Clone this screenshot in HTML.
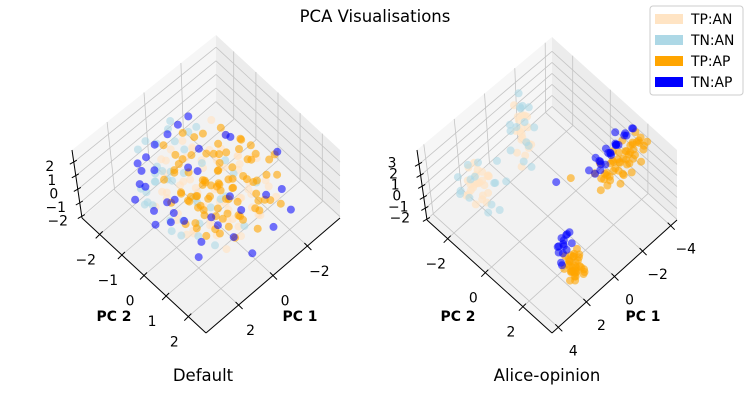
<!DOCTYPE html>
<html><head><meta charset="utf-8"><style>
html,body{margin:0;padding:0;background:#fff;}
svg{display:block;font-family:"DejaVu Sans","Liberation Sans",sans-serif;}
</style></head><body>
<svg id="fig" width="750" height="400" viewBox="0 0 750 400">
<text x="375" y="22" text-anchor="middle" font-size="16.5" fill="#000">PCA Visualisations</text>
<g id="left"></g>
<g id="right"></g>
<text x="203" y="381" text-anchor="middle" font-size="16.5">Default</text>
<text x="547" y="381" text-anchor="middle" font-size="16.5">Alice-opinion</text>
<g>
<rect x="650" y="6" width="93" height="89" rx="3" fill="#fff" fill-opacity="0.8" stroke="#ccc"/>
<g><rect x="655" y="14" width="28" height="10" fill="#ffe4c4"/><text x="691" y="24" font-size="13.9">TP:AN</text></g>
<g><rect x="655" y="35" width="28" height="10" fill="#add8e6"/><text x="691" y="45" font-size="13.9">TN:AN</text></g>
<g><rect x="655" y="56" width="28" height="10" fill="#ffa500"/><text x="691" y="66" font-size="13.9">TP:AP</text></g>
<g><rect x="655" y="77" width="28" height="10" fill="#0000ff"/><text x="691" y="87" font-size="13.9">TN:AP</text></g>
</g>
</svg>
<script>
// ---- data: Default plot [pc1, pc2, pc3] ----
const defaultTPAN=[[0.3,0.5,1.2],[-1.2,0.8,0.4],[1.5,-0.3,-0.6],[-0.4,-1.1,0.9],[0.9,1.4,-1.3],[-1.8,-0.2,0.2],[0.1,-0.6,-1.5],[1.1,0.2,1.6],[-0.7,1.6,-0.2],[-2.2,0.9,-0.8],[0.6,-1.7,0.3],[1.9,0.7,0.1],[-1.0,-1.6,-0.4],[-0.2,0.1,2.1],[0.4,1.1,0.6],[-1.5,1.3,1.0],[1.3,-1.0,1.1],[-0.6,-0.3,-1.1],[0.8,0.6,-0.3],[-2.0,-0.9,0.5],[2.1,-0.8,-0.2],[-0.3,2.0,0.8],[0.0,-2.0,-0.9],[1.6,1.2,0.9],[-1.3,0.3,-1.6],[0.5,-0.2,0.0],[-0.9,0.6,1.8],[1.0,-1.4,-1.2],[-1.7,-1.3,1.3],[0.2,0.9,-0.7],[-2.4,0.2,0.0],[1.4,0.0,-1.8],[-0.5,-0.8,0.4],[0.7,1.9,0.2],[-1.1,1.0,-1.0],[2.3,0.3,0.7],[-0.1,-1.3,1.5],[0.9,-0.5,0.8],[-1.6,0.0,-0.3],[0.3,0.3,-1.9],
[0.0,0.4,-0.3],[-0.6,0.9,0.1],[0.6,-0.9,-0.4],[-1.1,-0.4,1.2],[1.2,0.9,0.4],[-0.2,-0.5,0.6],[0.4,0.0,-0.8],[-1.4,0.6,-0.6],[0.9,-0.2,1.4],[-0.8,1.2,0.6],[1.7,-0.6,0.3],[-0.4,-1.4,-0.2],[-1.9,0.4,0.9],[0.2,1.4,-0.4],[1.1,-1.1,-0.7],[-0.3,0.7,1.6],[-1.2,-1.0,0.1],[0.7,0.8,-1.4],[-2.1,-0.4,-0.4],[1.5,0.4,-1.0],[-0.6,0.2,-1.4],[0.3,-1.5,1.0],[-1.6,1.7,0.3],[0.8,1.6,1.1],[-0.9,-0.1,0.5]];
const defaultTNAN=[[1.2,-1.5,0.2],[0.5,-2.0,-0.8],[1.8,-1.0,1.0],[-0.3,-1.8,0.5],[2.0,-0.2,-1.2],[0.9,-1.2,-0.1],[1.5,0.6,-0.9],[-1.0,-1.4,1.4],[0.1,-2.3,0.0],[2.4,-0.9,0.3],[-0.8,0.4,0.9],[0.6,0.9,1.3],[1.1,-0.4,-1.7],[-1.6,-0.6,-0.5],[0.3,-0.9,1.9],[1.7,1.5,0.0],[-0.4,1.2,-1.3],[2.2,0.4,-0.4],[0.8,-2.2,1.1],[-1.3,-2.0,-0.2],[1.4,-1.8,-1.4],[-0.1,0.6,0.3],[2.6,-0.5,0.9],[0.0,-1.2,-0.6],[1.0,0.1,0.6],[-2.0,0.5,-0.9],[1.9,-1.6,-0.3],[0.4,-0.3,-1.0],[-0.7,-2.3,0.8],[1.3,1.0,1.6],
[1.6,-1.2,0.5],[0.7,-1.6,-0.3],[2.1,-1.3,-0.8],[-0.2,-2.0,1.2],[1.2,-0.8,1.4],[2.3,0.0,0.2],[0.3,-1.5,-1.3],[1.8,0.9,0.8],[-0.9,-1.1,-0.7],[1.0,-2.4,0.4]];
const defaultTPAP=[[0.0,0.0,0.3],[-0.5,0.4,0.8],[0.4,-0.3,-0.5],[-1.0,0.2,0.0],[0.7,0.5,1.0],[-0.3,-0.6,-0.9],[0.2,0.9,-0.2],[-1.4,-0.4,0.6],[1.0,-0.1,0.4],[-0.8,1.0,1.4],[0.5,-1.0,0.9],[-1.9,0.6,-0.5],[1.3,0.8,-0.8],[-0.2,-1.4,-0.1],[-1.2,1.5,0.2],[0.9,1.5,0.5],[-2.1,-0.3,1.0],[0.1,0.3,-1.4],[-0.6,-0.1,1.8],[1.6,-0.5,0.0],[-1.6,0.9,-1.2],[-0.9,-0.9,0.3],[0.6,0.2,1.6],[-2.3,1.2,0.4],[0.3,-0.8,-1.7],[-0.4,1.8,-0.6],[1.2,0.3,-1.1],[-1.1,-1.2,1.1],[-2.6,0.0,-0.2],[0.8,-0.7,-0.4],[-0.7,0.7,-1.6],[-1.5,0.1,1.5],[0.0,1.2,0.9],[-2.0,1.6,-0.8],[1.5,0.6,1.2],[-0.2,-0.4,-0.3],[-1.3,-0.7,-1.1],[0.4,1.4,-1.0],[-2.8,0.7,0.6],[-0.9,0.3,-0.4],[1.1,-1.2,0.1],[-1.7,-1.0,0.0],[0.2,-1.9,0.6],[-0.1,0.6,0.1],[-1.0,1.9,1.0],[-3.0,0.3,-0.6],[0.6,1.0,0.0],[-0.5,-1.6,1.2],[-1.8,0.4,1.9],[0.9,0.0,-1.5],
[-0.3,0.2,-0.1],[0.2,-0.2,0.6],[-0.7,-0.2,-0.6],[0.5,0.7,0.2],[-1.1,0.6,0.7],[0.1,-0.9,0.0],[-0.4,1.0,-0.9],[0.8,0.3,-0.2],[-1.5,-0.2,-0.3],[0.3,0.5,1.3],[-0.8,-0.5,1.0],[1.1,0.4,0.6],[-0.1,-0.2,-1.1],[-1.3,0.9,0.5],[0.6,-0.5,-1.0],[-0.6,0.5,0.2],[0.0,0.8,0.5],[-2.0,0.1,0.2],[1.4,-0.2,0.9],[-0.9,1.3,-0.4],[0.4,-1.3,-0.3],[-1.7,0.5,1.1],[0.9,1.1,-0.6],[-0.2,-1.0,0.8],[-1.2,-0.6,-0.8],[0.7,-0.1,0.1],[-0.5,0.0,1.4],[1.7,0.2,-0.4],[-2.4,-0.5,0.3],[0.2,1.6,0.4],[-1.4,1.1,-1.4],[1.0,-0.8,1.3],[-0.3,-1.8,-0.5],[-2.2,0.8,-0.1],[0.5,0.1,-1.2],[-0.7,1.5,1.2],[1.3,1.2,0.3],[-1.0,-1.5,0.5],[-0.1,0.3,0.7],[-1.6,-0.8,1.6]];
const defaultTNAP=[[1.8,-1.6,0.9],[2.2,-0.8,-0.4],[1.5,-2.0,-1.0],[-0.4,-2.2,0.3],[2.5,0.2,0.6],[0.6,-2.4,-0.6],[-1.2,-1.9,1.2],[2.0,1.0,-1.3],[1.0,1.8,0.3],[-2.4,-1.2,-0.4],[0.3,2.1,-1.2],[1.7,-1.1,1.6],[-1.8,1.8,0.8],[2.6,-1.3,0.1],[-0.8,2.2,-0.3],[0.9,-1.7,1.7],[1.2,0.5,-1.8],[-1.5,-1.7,-1.2],[-2.7,0.9,1.2],[0.1,-0.5,0.7],[-0.6,0.9,-0.8],[1.4,1.4,1.0],[2.3,-0.1,1.4],[-2.2,1.9,-1.0],[0.5,0.4,-0.9],[0.0,-1.0,0.1],[1.9,0.3,0.2],[-1.1,0.0,-1.7],
[1.6,-0.4,-0.6],[-1.9,-0.6,0.9],[0.8,-1.0,-1.4],[2.0,-1.3,0.4],[-0.5,-1.8,1.5],[1.3,-2.2,0.0],[2.4,-0.6,-0.9],[-1.4,1.4,0.2]];
// ---- data: Alice-opinion plot ----
const aliceTPAN=[[-1.1,-2.1,2.6],[-1.0,-2.2,2.1],[-1.2,-1.9,1.7],[-0.9,-2.0,1.3],[-1.3,-2.3,0.9],[-1.0,-2.1,0.5],[-1.1,-1.8,0.1],[-1.4,-2.1,-0.3],[-0.8,-2.2,-0.6],[-1.2,-2.4,1.9],[-1.0,-1.9,3.0],[-1.1,-2.0,-0.9],[-0.9,-2.3,1.1],[-1.3,-2.0,2.4],[-1.2,-2.2,0.3],[-1.0,-1.7,0.7],[-0.8,-2.0,1.6],[-1.4,-1.9,-0.1],[-1.1,-2.5,2.9],[-0.7,-1.9,-1.3],
[2.0,-2.1,0.0],[2.2,-2.0,0.4],[1.8,-2.2,-0.3],[2.1,-1.8,0.8],[1.9,-2.4,-0.7],[2.4,-2.2,0.2],[1.6,-1.9,0.5],[2.3,-1.7,-0.5],[1.7,-2.5,0.9],[2.5,-2.4,-1.0],[2.0,-1.6,-0.1],[1.5,-2.2,-0.9],[2.6,-1.9,0.6],[2.1,-2.6,-0.4],[1.8,-1.7,1.1],[2.4,-2.0,-1.3],[1.9,-2.3,0.3],[2.2,-2.4,1.2],[1.4,-2.0,0.1],[2.7,-2.1,-0.2],[2.0,-1.9,-0.8],[1.7,-2.1,0.7],[2.3,-2.3,-0.6],[2.1,-2.0,1.5],[1.9,-1.8,-1.4]];
const aliceTNAN=[[-1.1,-2.2,3.2],[-0.9,-2.0,3.6],[-1.4,-2.3,2.8],[-1.0,-1.9,2.4],[-1.3,-2.4,3.9],[-0.7,-2.1,2.0],[-1.5,-1.8,1.5],[-0.8,-2.5,0.9],[-1.2,-2.0,0.2],[-0.6,-1.7,-0.4],[-1.6,-2.2,-0.9],[-1.0,-1.6,-1.2],[-0.9,-2.6,1.2],[-1.3,-1.9,3.4],[-0.5,-2.3,-0.2],
[2.0,-2.6,0.9],[2.6,-2.0,1.2],[1.6,-1.5,0.5],[2.9,-2.4,-0.4],[1.2,-1.9,-0.6],[2.3,-1.2,-0.2],[2.4,-2.8,-1.3],[1.8,-2.2,1.5],[1.0,-1.4,0.1],[3.0,-1.8,0.3],[1.5,-2.7,-0.9],[2.2,-1.5,-1.5],[0.8,-2.0,0.8],[2.7,-2.6,0.6],[1.9,-1.1,-1.0]];
const aliceTPAP=[[-1.5,1.7,1.2],[-1.8,1.5,1.6],[-2.0,1.8,2.0],[-2.2,1.4,1.4],[-2.4,1.7,1.9],[-2.6,1.5,2.3],[-2.8,1.9,1.5],[-3.0,1.6,1.8],[-3.2,1.4,2.2],[-3.4,1.8,1.6],[-3.6,1.5,2.0],[-3.8,1.7,1.4],[-4.0,1.4,1.9],[-4.2,1.6,2.3],[-4.4,1.8,1.7],[-4.6,1.5,2.1],[-4.8,1.7,1.8],[-1.7,1.9,1.7],[-2.1,1.2,2.2],[-2.5,2.0,1.1],[-2.9,1.3,2.5],[-3.3,2.0,1.2],[-3.7,1.2,2.4],[-4.1,1.9,1.1],[-4.5,1.3,2.4],[-1.6,1.3,2.0],[-2.3,1.6,1.0],[-2.7,1.7,2.6],[-3.1,1.9,2.0],[-3.5,1.4,1.3],[-3.9,1.6,2.6],[-4.3,1.3,1.5],[-2.0,1.5,1.3],[-3.0,1.8,1.0],[-4.7,1.6,1.4],[-0.3,1.0,2.6],
[-2.1,1.6,1.7],[-2.6,1.4,1.9],[-3.1,1.5,1.6],[-3.6,1.7,2.2],[-4.1,1.5,1.6],[-2.4,1.8,2.3],[-2.9,1.6,1.2],[-3.4,1.6,2.4],[-3.9,1.4,1.2],[-4.4,1.6,2.0],[-1.9,1.7,2.3],[-2.8,1.4,1.8],[-3.3,1.7,1.9],[-3.8,1.8,1.9],[-4.2,1.7,2.6],
[1.5,2.6,-1.8],[1.3,2.4,-2.0],[1.7,2.7,-1.4],[1.4,2.5,-1.1],[1.6,2.3,-0.6],[1.2,2.8,-1.6],[1.8,2.5,-0.2],[1.5,2.2,-1.3],[1.3,2.9,-0.9],[1.9,2.6,-1.7],[1.1,2.5,-0.4],[1.6,2.8,0.1],[1.4,2.3,-1.9],[1.7,2.4,-0.9],[1.2,2.6,-1.2],[1.5,2.9,-0.5],[1.9,2.3,-1.1],[1.0,2.7,-1.8],[1.6,2.6,0.4],[1.3,2.2,-0.7],[1.8,2.8,-1.5],[1.4,2.7,0.0],[1.5,2.4,-1.6],[1.7,2.2,-0.3],[1.2,2.4,-2.1],[1.6,2.5,-1.0],[1.4,2.6,0.6],[1.8,2.7,-0.8],[1.1,2.3,-1.4],[1.5,2.5,-0.1],
[1.5,2.6,-1.2],[1.4,2.4,-0.4],[1.6,2.7,-0.7],[1.3,2.5,-1.7],[1.7,2.5,-1.3],[1.5,2.3,-0.9]];
const aliceTNAP=[[-1.6,1.0,1.8],[-1.9,1.1,1.3],[-2.2,0.9,2.1],[-2.5,1.2,1.6],[-2.8,1.0,2.4],[-3.1,0.9,1.5],[-3.4,1.1,2.2],[-3.7,1.0,1.7],[-4.0,1.2,2.5],[-4.3,0.9,1.9],[-4.6,1.1,2.3],[-2.0,1.3,2.6],[-2.6,0.8,1.2],[-3.2,1.2,2.7],[-3.8,0.8,1.3],[-4.4,1.2,2.7],[0.2,0.6,2.2],[-2.4,1.0,0.9],[-3.0,1.1,1.9],[-3.6,0.9,2.8],
[-2.3,1.1,1.7],[-2.9,1.2,2.0],[-3.5,1.0,1.9],[-4.1,1.0,2.1],[-2.7,1.3,2.6],
[1.6,2.0,-0.5],[1.4,1.9,0.3],[1.8,2.1,-1.2],[1.3,2.0,0.9],[1.7,1.8,-0.1],[1.5,2.1,1.2],[1.2,1.9,-0.8],[1.9,2.0,0.5],[1.4,2.2,1.5],[1.6,1.9,-1.5],[1.1,2.1,0.0],[1.7,2.0,1.0],[1.3,1.8,-0.3],[1.8,2.2,0.7],[1.5,1.7,-1.0]];
// ---- tick labels ----
const defaultPC1Ticks=[-2,0,2];
const defaultPC2Ticks=[-2,-1,0,1,2];
const defaultZTicks=[-2,-1,0,1,2];
const alicePC1Ticks=[-4,-2,0,2,4];
const alicePC2Ticks=[-2,0,2];
const aliceZTicks=[-2,-1,0,1,2,3];

const NS="http://www.w3.org/2000/svg";
function mk(parent,tag,attrs){const e=document.createElementNS(NS,tag);for(const k in attrs)e.setAttribute(k,attrs[k]);parent.appendChild(e);return e;}
function fmt(v){return v<0?"\u2212"+(-v):""+v;}

function drawPlot(g,cfg,series){
  const B=cfg.B,L=cfg.L,R=cfg.R;
  const A=(p2)=>(cfg.p2max-p2)/(cfg.p2max-cfg.p2min);
  const Bf=(p1)=>(cfg.p1max-p1)/(cfg.p1max-cfg.p1min);
  const N=(z)=>(z-cfg.zmin)/(cfg.zmax-cfg.zmin);
  function P(a,b,n){
    const zdx=-10*Math.max(0,a-b);
    return [B[0]+a*(L[0]-B[0])+b*(R[0]-B[0])+n*zdx, B[1]+a*(L[1]-B[1])+b*(R[1]-B[1])-n*cfg.H];
  }
  const pts=(arr)=>arr.map(q=>q[0].toFixed(1)+","+q[1].toFixed(1)).join(" ");
  const floor=mk(g,"polygon",{points:pts([P(0,0,0),P(1,0,0),P(1,1,0),P(0,1,0)]),fill:"#f2f2f2"});
  
  
  const lw=mk(g,"polygon",{points:pts([P(1,0,0),P(1,1,0),P(1,1,1),P(1,0,1)]),fill:"#f6f6f6"});
  
  
  const rw=mk(g,"polygon",{points:pts([P(0,1,0),P(1,1,0),P(1,1,1),P(0,1,1)]),fill:"#ececec"});
  
  
  const grid=mk(g,"g",{stroke:"#c4c4c4","stroke-width":"0.8",fill:"none"});
  
  
  function line(par,p,q){return mk(par,"line",{x1:p[0].toFixed(1),y1:p[1].toFixed(1),x2:q[0].toFixed(1),y2:q[1].toFixed(1)});}
  cfg.p1Ticks.forEach(t=>{const b=Bf(t);line(grid,P(0,b,0),P(1,b,0));line(grid,P(1,b,0),P(1,b,1));});
  cfg.p2Ticks.forEach(t=>{const a=A(t);line(grid,P(a,0,0),P(a,1,0));line(grid,P(a,1,0),P(a,1,1));});
  cfg.zTicks.forEach(t=>{const n=N(t);line(grid,P(1,0,n),P(1,1,n));line(grid,P(0,1,n),P(1,1,n));});
  const ax=mk(g,"g",{stroke:"#000","stroke-width":"1",fill:"none"});
  
  
  line(ax,P(0,0,0),P(1,0,0));line(ax,P(0,0,0),P(0,1,0));line(ax,P(1,0,0),P(1,0,1));
  const lab=mk(g,"g",{"font-size":"13.9",fill:"#000","text-anchor":"middle"});
  
  
  cfg.p2Ticks.forEach(t=>{const p=P(A(t),0,0);line(ax,[p[0]+3,p[1]-3],[p[0]-4,p[1]+4]);
    const e=mk(lab,"text",{x:(p[0]+cfg.p2Off[0]).toFixed(1),y:(p[1]+cfg.p2Off[1]+5).toFixed(1)});e.textContent=fmt(t);
    
    });
  cfg.p1Ticks.forEach(t=>{const p=P(0,Bf(t),0);line(ax,[p[0]-3,p[1]-3],[p[0]+4,p[1]+4]);
    const e=mk(lab,"text",{x:(p[0]+cfg.p1Off[0]).toFixed(1),y:(p[1]+cfg.p1Off[1]+5).toFixed(1)});e.textContent=fmt(t);
    
    });
  cfg.zTicks.forEach(t=>{const p=P(1,0,N(t));line(ax,[p[0]+3,p[1]-2],[p[0]-4,p[1]+2]);
    const e=mk(lab,"text",{x:(p[0]+cfg.zOff[0]).toFixed(1),y:(p[1]+cfg.zOff[1]+5).toFixed(1)});e.textContent=fmt(t);
    
    });
  const t1=mk(g,"text",{x:cfg.pc1Lab[0],y:cfg.pc1Lab[1],"font-size":"13.9","font-weight":"bold","text-anchor":"middle"});t1.textContent="PC 1";
  
  
  const t2=mk(g,"text",{x:cfg.pc2Lab[0],y:cfg.pc2Lab[1],"font-size":"13.9","font-weight":"bold","text-anchor":"middle"});t2.textContent="PC 2";
  
  
  series.forEach(s=>{
    const sg=mk(g,"g",{fill:s.color,"fill-opacity":s.op});
    
    
    const sorted=s.data.slice().sort((u,v)=>(A(v[1])+Bf(v[0]))-(A(u[1])+Bf(u[0])));
    sorted.forEach(d=>{const p=P(A(d[1]),Bf(d[0]),N(d[2]));
      const c=mk(sg,"circle",{cx:p[0].toFixed(1),cy:p[1].toFixed(1),r:"4"});
      
      });
  });
}

drawPlot(document.getElementById("left"),{
  B:[206,333],L:[82,218],R:[340,218],H:68,
  p1min:-3.9,p1max:3.9,p2min:-2.8,p2max:2.8,zmin:-2.1,zmax:2.9,
  p1Ticks:defaultPC1Ticks,p2Ticks:defaultPC2Ticks,zTicks:defaultZTicks,
  p2Off:[-14,25],p1Off:[12,25],zOff:[-24,4],pc1Lab:[300,321],pc2Lab:[114,321]
},[
  {name:"series-tp-an",data:defaultTPAN,color:"#ffe4c4",op:0.65},
  {name:"series-tn-an",data:defaultTNAN,color:"#add8e6",op:0.6},
  {name:"series-tp-ap",data:defaultTPAP,color:"#ffa500",op:0.6},
  {name:"series-tn-ap",data:defaultTNAP,color:"#0000ff",op:0.55}
]);
drawPlot(document.getElementById("right"),{
  B:[552,333],L:[427,220],R:[677,220],H:70,
  p1min:-4.45,p1max:4.45,p2min:-3.1,p2max:3.55,zmin:-2.05,zmax:4.3,
  p1Ticks:alicePC1Ticks,p2Ticks:alicePC2Ticks,zTicks:aliceZTicks,
  p2Off:[-12,25],p1Off:[15,23],zOff:[-27,-2],pc1Lab:[643,321],pc2Lab:[458,321]
},[
  {name:"series-tp-an",data:aliceTPAN,color:"#ffe4c4",op:0.7},
  {name:"series-tn-an",data:aliceTNAN,color:"#add8e6",op:0.6},
  {name:"series-tp-ap",data:aliceTPAP,color:"#ffa500",op:0.6},
  {name:"series-tn-ap",data:aliceTNAP,color:"#0000ff",op:0.55}
]);
</script>
</body></html>
